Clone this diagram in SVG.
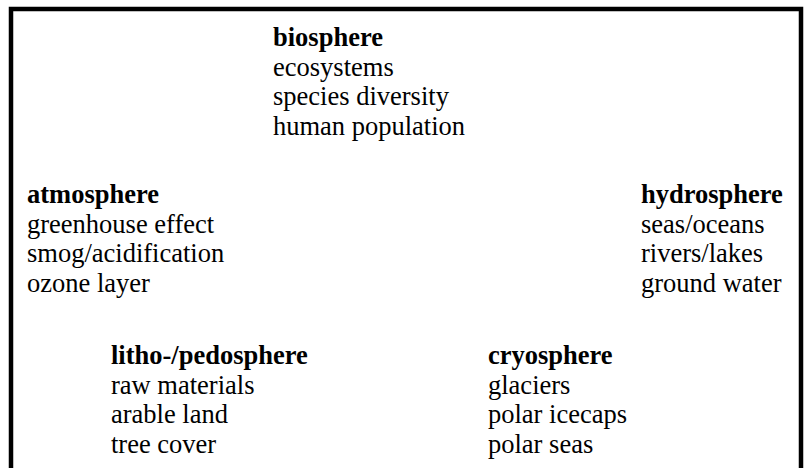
<svg xmlns="http://www.w3.org/2000/svg" width="810" height="468" viewBox="0 0 810 468">
<style>
text{font-family:"Liberation Serif","Times New Roman",serif;font-size:26.5px;fill:#000}
.h{font-weight:bold}
.frame{fill:none;stroke:#000;stroke-width:4.5}
</style>
<rect width="810" height="468" fill="#fff"/>
<path class="frame" d="M11,468 V9 H801 V468"/>
<g id="biosphere">
<text class="h" x="273" y="46">biosphere</text>
<text x="273" y="75.5">ecosystems</text>
<text x="273" y="105">species diversity</text>
<text x="273" y="134.5">human population</text>
</g>
<g id="atmosphere">
<text class="h" x="27" y="203">atmosphere</text>
<text x="27" y="232.5">greenhouse effect</text>
<text x="27" y="262">smog/acidification</text>
<text x="27" y="291.5">ozone layer</text>
</g>
<g id="hydrosphere">
<text class="h" x="641" y="203">hydrosphere</text>
<text x="641" y="232.5">seas/oceans</text>
<text x="641" y="262">rivers/lakes</text>
<text x="641" y="291.5">ground water</text>
</g>
<g id="lithosphere">
<text class="h" x="111" y="364">litho-/pedosphere</text>
<text x="111" y="393.5">raw materials</text>
<text x="111" y="423">arable land</text>
<text x="111" y="452.5">tree cover</text>
</g>
<g id="cryosphere">
<text class="h" x="488" y="364">cryosphere</text>
<text x="488" y="393.5">glaciers</text>
<text x="488" y="423">polar icecaps</text>
<text x="488" y="452.5">polar seas</text>
</g>
</svg>
